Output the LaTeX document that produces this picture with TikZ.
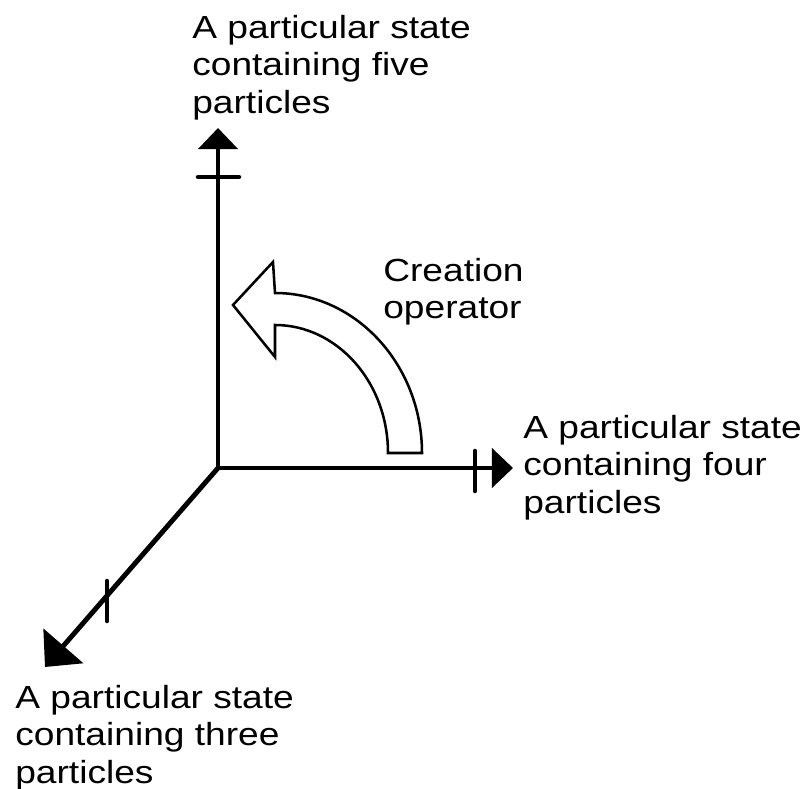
\documentclass[tikz,border=0pt]{standalone}
\usepackage{fontspec}
\setmainfont{Liberation Sans}
\usetikzlibrary{arrows.meta}

\begin{document}
\begin{tikzpicture}[x=0.025cm,y=-0.025cm,
  every node/.style={font=\fontsize{22.76}{26.68}\selectfont,inner sep=0pt,align=left,xscale=1.16},
  axis/.style={line width=3.5pt,-{Triangle[width=0.98cm,length=0.53cm]}},
  tickmark/.style={line width=3.2pt,line cap=round},
  blockarrow/.style={draw,line width=1.8pt,fill=white,line join=miter}]
\useasboundingbox (0,0) rectangle (812,789);
\coordinate (O) at (218,468);
\coordinate (five) at (218,128);
\coordinate (four) at (513,468);
\coordinate (three) at (45,667);
\draw[axis] (O)--(five);
\draw[axis] (O)--(four);
\draw[axis,-{Triangle[width=1.3cm,length=0.7cm]}] (O)--(three);
\draw[tickmark] (198,177)--(239,177);
\draw[tickmark] (475,451)--(475,491);
\draw[tickmark] (107,581)--(107,621);
% curved arrow
\draw[blockarrow] (233,305)--(273,262)--(275,293)
  .. controls (356,293) and (422,365) .. (422,453)--(388,453)
  .. controls (388,382) and (337,325) .. (275,325)--(275,357)--cycle;
\node[anchor=north west] (fivelbl) at (192,15) {A particular state\\containing five\\particles};
\node[anchor=north west] (fourlbl) at (523,415) {A particular state\\containing four\\particles};
\node[anchor=north west] (threelbl) at (15,685) {A particular state\\containing three\\particles};
\node[anchor=north west] (oplbl) at (383,258) {Creation\\operator};
\end{tikzpicture}
\end{document}
